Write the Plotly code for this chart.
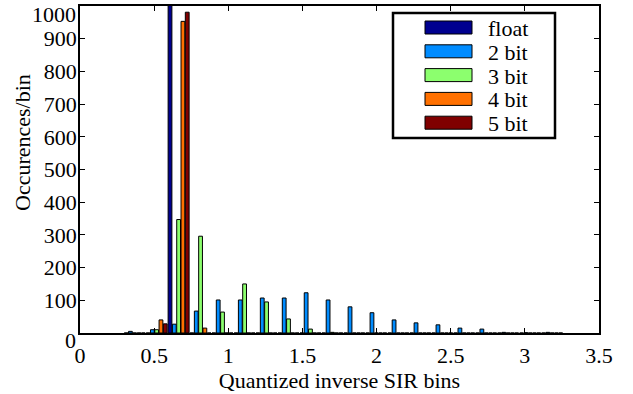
import plotly.graph_objects as go

# ---- data ----
bin_centers = [0.369, 0.517, 0.665, 0.813, 0.961, 1.110, 1.258, 1.406, 1.554, 1.702,
               1.850, 1.998, 2.147, 2.295, 2.443, 2.591, 2.739, 2.887, 3.036, 3.184]
float_vals = [0, 0, 1100, 0, 0, 0, 0, 0, 0, 0, 0, 0, 0, 0, 0, 0, 0, 0, 0, 0]
bit2_vals = [5, 10, 27, 67, 101, 101, 107, 107, 123, 101, 80, 62, 40, 31, 25, 15, 12, 2, 1, 2]
bit3_vals = [0, 10, 347, 296, 64, 150, 95, 43, 12, 2, 0, 0, 0, 0, 0, 0, 0, 0, 0, 0]
bit4_vals = [0, 40, 953, 15, 0, 0, 0, 0, 0, 0, 0, 0, 0, 0, 0, 0, 0, 0, 0, 0]
bit5_vals = [0, 28, 981, 0, 0, 0, 0, 0, 0, 0, 0, 0, 0, 0, 0, 0, 0, 0, 0, 0]

series_names = ["float", "2 bit", "3 bit", "4 bit", "5 bit"]
series_vals = [float_vals, bit2_vals, bit3_vals, bit4_vals, bit5_vals]
series_colors = ["#00008F", "#008CFF", "#8CFF6E", "#FF7000", "#800000"]

x_ticks = [0, 0.5, 1, 1.5, 2, 2.5, 3, 3.5]
x_tick_labels = ["0", "0.5", "1", "1.5", "2", "2.5", "3", "3.5"]
y_ticks = [0, 100, 200, 300, 400, 500, 600, 700, 800, 900, 1000]
y_tick_labels = ["0", "100", "200", "300", "400", "500", "600", "700", "800", "900", "1000"]

x_title = "Quantized inverse SIR bins"
y_title = "Occurences/bin"

FONT = "Liberation Serif, DejaVu Serif, serif"
W, H = 633, 394
L, R, T, B = 80, 34, 6, 61

fig = go.Figure()
for name, vals, col in zip(series_names, series_vals, series_colors):
    fig.add_trace(go.Bar(x=bin_centers, y=vals, name=name,
                         marker=dict(color=col, line=dict(color="black", width=1)),
                         showlegend=False))

# pixel -> paper helpers for the hand-drawn legend
pw, ph = W - L - R, H - T - B
def px_x(p):
    return (p - L) / pw
def px_y(p):
    return (H - B - p) / ph

shapes = [dict(type="rect", xref="paper", yref="paper",
               x0=px_x(393), x1=px_x(555), y0=px_y(138), y1=px_y(13),
               line=dict(color="black", width=2.5), fillcolor="white", layer="above")]
annotations = []
for i, (name, col) in enumerate(zip(series_names, series_colors)):
    yc = 27.5 + 23.8 * i
    shapes.append(dict(type="rect", xref="paper", yref="paper",
                       x0=px_x(425), x1=px_x(472), y0=px_y(yc + 6.5), y1=px_y(yc - 6.5),
                       line=dict(color="black", width=1), fillcolor=col, layer="above"))
    annotations.append(dict(xref="paper", yref="paper", x=px_x(486), y=px_y(yc + 1),
                            text=name, showarrow=False, xanchor="left", yanchor="middle",
                            font=dict(family=FONT, size=22, color="black")))

# the end labels of the y axis sit slightly inside the figure in the reference
native_y_text = [("" if i in (0, len(y_tick_labels) - 1) else t) for i, t in enumerate(y_tick_labels)]
for lab, py in ((y_tick_labels[0], 340), (y_tick_labels[-1], 14)):
    annotations.append(dict(xref="paper", yref="paper", x=px_x(78), y=px_y(py),
                            text=lab, showarrow=False, xanchor="right", yanchor="middle",
                            font=dict(family=FONT, size=22, color="black")))

# y-axis title
annotations.append(dict(xref="paper", yref="paper", x=px_x(22), y=px_y(143),
                        text=y_title, textangle=-90, showarrow=False,
                        xanchor="center", yanchor="middle",
                        font=dict(family=FONT, size=22, color="black")))

axis_common = dict(showline=True, linecolor="black", linewidth=1.5, mirror="ticks",
                   ticks="inside", ticklen=5, tickcolor="black", tickwidth=1,
                   showgrid=False, zeroline=False, automargin=False,
                   ticklabeloverflow="allow",
                   tickfont=dict(family=FONT, size=22, color="black"))

fig.update_layout(
    width=W, height=H,
    margin=dict(l=L, r=R, t=T, b=B),
    paper_bgcolor="white", plot_bgcolor="white",
    barmode="group", bargap=0.02, bargroupgap=0.12,
    font=dict(family=FONT, size=22, color="black"),
    shapes=shapes, annotations=annotations,
    xaxis=dict(range=[0, 3.5], tickvals=x_ticks, ticktext=x_tick_labels,
               title=dict(text=x_title, standoff=2,
                          font=dict(family=FONT, size=22)),
               ticklabelstandoff=2, **axis_common),
    yaxis=dict(range=[0, 1000], tickvals=y_ticks, ticktext=native_y_text,
               ticklabelstandoff=-3, **axis_common),
)

fig.write_html("out.html", post_script="document.body.style.margin='0';",
               config={"displayModeBar": False})
